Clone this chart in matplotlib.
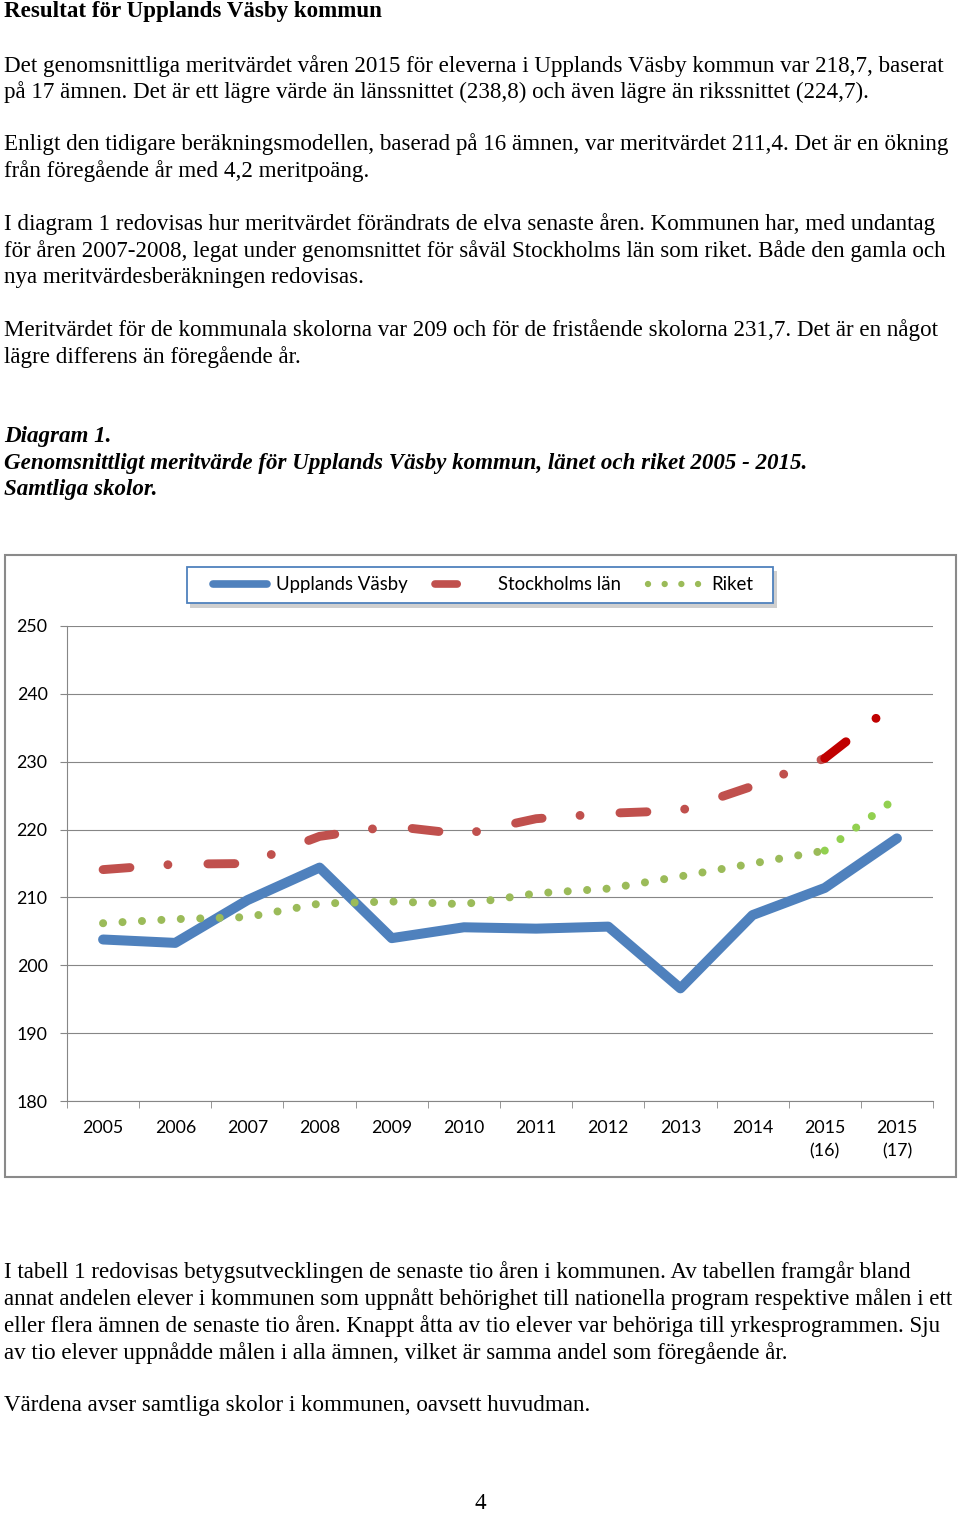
import matplotlib
matplotlib.use("Agg")
from matplotlib import pyplot as plt
from matplotlib.patches import Rectangle
from matplotlib.lines import Line2D

plt.rcParams['lines.scale_dashes'] = False

# data
labels = ['2005', '2006', '2007', '2008', '2009', '2010', '2011', '2012',
          '2013', '2014', '2015\n(16)', '2015\n(17)']
vasby = [203.8, 203.3, 209.6, 214.4, 204.0, 205.6, 205.4, 205.7, 196.6, 207.4, 211.4, 218.7]
lan = [214.1, 214.9, 215.0, 219.0, 220.5, 219.3, 221.6, 222.4, 222.8, 226.4, 230.5, 238.8]
riket = [206.2, 206.8, 207.1, 209.1, 209.4, 209.0, 210.6, 211.3, 213.1, 215.0, 216.9, 224.7]
yticks = [180, 190, 200, 210, 220, 230, 240, 250]

W, H = 960, 1513
fig = plt.figure(figsize=(W / 100, H / 100), dpi=100)
fig.patch.set_facecolor('white')

def txt(x, y, s, **kw):
    # x, y in page pixels (y = baseline from top)
    kw.setdefault('family', 'Liberation Serif')
    kw.setdefault('fontsize', 16.6)
    fig.text(x / W, 1 - y / H, s, va='baseline', ha=kw.pop('ha', 'left'), **kw)

txt(4, 17, 'Resultat för Upplands Väsby kommun', weight='bold')
body = [
    (72, 'Det genomsnittliga meritvärdet våren 2015 för eleverna i Upplands Väsby kommun var 218,7, baserat'),
    (98, 'på 17 ämnen. Det är ett lägre värde än länssnittet (238,8) och även lägre än rikssnittet (224,7).'),
    (150, 'Enligt den tidigare beräkningsmodellen, baserad på 16 ämnen, var meritvärdet 211,4. Det är en ökning'),
    (177, 'från föregående år med 4,2 meritpoäng.'),
    (230, 'I diagram 1 redovisas hur meritvärdet förändrats de elva senaste åren. Kommunen har, med undantag'),
    (257, 'för åren 2007-2008, legat under genomsnittet för såväl Stockholms län som riket. Både den gamla och'),
    (283, 'nya meritvärdesberäkningen redovisas.'),
    (336, 'Meritvärdet för de kommunala skolorna var 209 och för de fristående skolorna 231,7. Det är en något'),
    (363, 'lägre differens än föregående år.'),
    (1278, 'I tabell 1 redovisas betygsutvecklingen de senaste tio åren i kommunen. Av tabellen framgår bland'),
    (1305, 'annat andelen elever i kommunen som uppnått behörighet till nationella program respektive målen i ett'),
    (1332, 'eller flera ämnen de senaste tio åren. Knappt åtta av tio elever var behöriga till yrkesprogrammen. Sju'),
    (1359, 'av tio elever uppnådde målen i alla ämnen, vilket är samma andel som föregående år.'),
    (1411, 'Värdena avser samtliga skolor i kommunen, oavsett huvudman.'),
]
for y, s in body:
    txt(4, y, s)

txt(4, 442, 'Diagram 1.', weight='bold', style='italic')
txt(4, 469, 'Genomsnittligt meritvärde för Upplands Väsby kommun, länet och riket 2005 - 2015.',
    weight='bold', style='italic')
txt(4, 495, 'Samtliga skolor.', weight='bold', style='italic')
txt(480, 1509, '4', ha='center')

# chart frame
fig.patches.append(Rectangle((5 / W, 1 - 1177 / H), 951 / W, 622 / H, transform=fig.transFigure,
                             fill=False, edgecolor='#8a8a8a', linewidth=1.5))
# legend box with shadow
fig.patches.append(Rectangle((190 / W, 1 - 608 / H), 587 / W, 37 / H, transform=fig.transFigure,
                             facecolor='#c4c4c4', edgecolor='none', alpha=0.8))
fig.patches.append(Rectangle((187 / W, 1 - 603 / H), 586 / W, 36 / H, transform=fig.transFigure,
                             facecolor='white', edgecolor='#4F81BD', linewidth=1.3))

ax = fig.add_axes([67 / W, 1 - 1101 / H, 866 / W, 475 / H])
x = list(range(len(labels)))
grid_c = '#868686'
blue, red, red2, green, green2 = '#4F81BD', '#C0504D', '#C00000', '#9BBB59', '#92D050'

ax.plot(x, vasby, color=blue, lw=7.2, solid_capstyle='round', solid_joinstyle='round', zorder=3)
ax.plot(x[:-1], lan[:-1], color=red, lw=6.4, dashes=(19.4, 27.4, 0.01, 28.8),
        dash_capstyle='round', zorder=4)
ax.plot(x[-2:], lan[-2:], color=red2, lw=6.4, dashes=(19.4, 27.4, 0.01, 28.8),
        dash_capstyle='round', zorder=4)
ax.plot(x[:-1], riket[:-1], color=green, lw=5.8, dashes=(0.01, 14.0),
        dash_capstyle='round', zorder=5)
ax.plot(x[-2:], riket[-2:], color=green2, lw=5.8, dashes=(0.01, 14.0),
        dash_capstyle='round', zorder=5)

ax.set_xlim(-0.5, len(labels) - 0.5)
ax.set_ylim(180, 250)
ax.set_yticks(yticks)
ax.set_xticks(x)
ax.set_xticklabels(labels, family='Lato', fontsize=12.8, linespacing=1.55)
ax.set_xticks([i - 0.5 for i in range(len(labels) + 1)], minor=True)
ax.tick_params(axis='x', which='major', length=0, pad=14)
ax.tick_params(axis='x', which='minor', length=5, color=grid_c, direction='out')
ax.tick_params(axis='y', length=5, color=grid_c, pad=9, labelsize=12.8)
for t in ax.get_yticklabels():
    t.set_family('Lato')
ax.grid(axis='y', color=grid_c, lw=0.8)
ax.set_axisbelow(True)
for s in ['top', 'right']:
    ax.spines[s].set_visible(False)
for s in ['left', 'bottom']:
    ax.spines[s].set_color(grid_c)
    ax.spines[s].set_linewidth(0.8)

handles = [
    Line2D([], [], color=blue, lw=5.5, solid_capstyle='round'),
    Line2D([], [], color=red, lw=5.5, dashes=(16, 40), dash_capstyle='round'),
    Line2D([], [], color=green, lw=4.6, dashes=(0.01, 12.0), dash_capstyle='round'),
]
leg = fig.legend(handles, ['Upplands Väsby', 'Stockholms län', 'Riket'], ncol=3,
                 loc='center', bbox_to_anchor=(483 / W, 1 - 585 / H),
                 prop={'family': 'Lato', 'size': 13.4}, handlelength=2.9, handletextpad=0.45,
                 columnspacing=1.5, frameon=False, borderpad=0.2)
leg.set_zorder(10)

fig.savefig('out.png', dpi=100)
